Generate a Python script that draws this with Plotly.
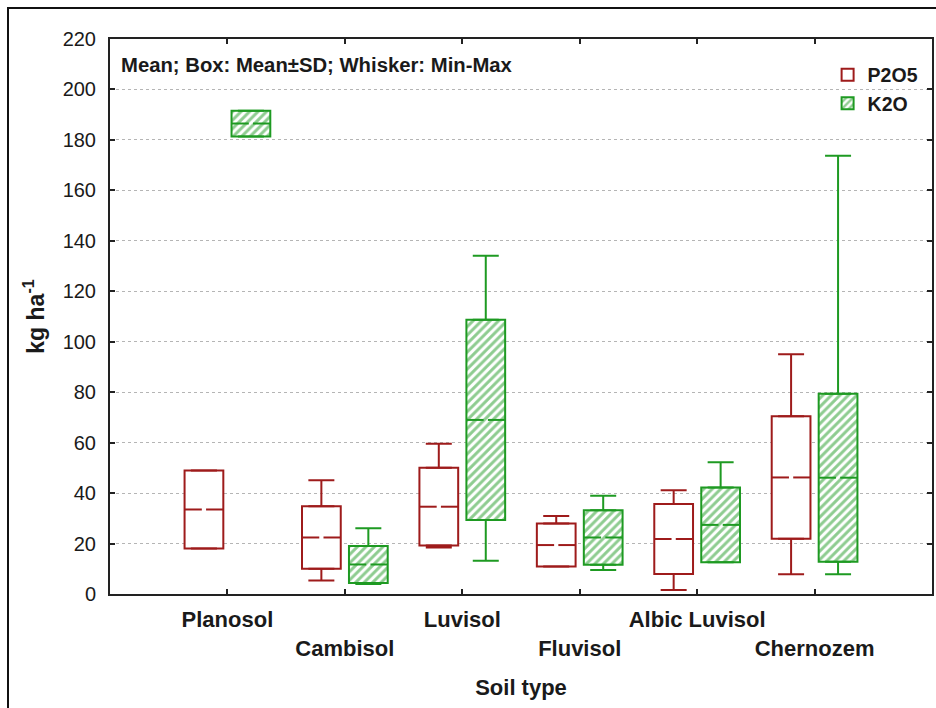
import plotly.graph_objects as go

categories = ["Planosol", "Cambisol", "Luvisol", "Fluvisol", "Albic Luvisol", "Chernozem"]
tick_labels = ["Planosol", " <br>Cambisol", "Luvisol", " <br>Fluvisol", "Albic Luvisol", " <br>Chernozem"]

p2o5_mean = [33.5, 22.4, 34.6, 19.4, 21.8, 46.2]
p2o5_sd = [15.5, 12.4, 15.4, 8.5, 13.9, 24.3]
p2o5_min = [18.0, 5.4, 18.4, 10.9, 1.6, 7.8]
p2o5_max = [49.0, 45.1, 59.6, 30.9, 41.1, 95.0]

k2o_mean = [186.5, 11.7, 69.0, 22.4, 27.4, 46.1]
k2o_sd = [5.1, 7.3, 39.7, 10.8, 14.8, 33.3]
k2o_min = [181.4, 4.0, 13.2, 9.5, 12.6, 7.8]
k2o_max = [191.6, 26.1, 134.1, 38.9, 52.2, 173.7]

RED = "#9E1B1B"
GREEN = "#1E9A22"
TXT = "#1a1a1a"
FONT = "Liberation Sans, Arial, sans-serif"

OFFSET = 0.2
WIDTH = 0.33
GAP = 0.018

fig = go.Figure()

series = [
    ("P2O5", p2o5_mean, p2o5_sd, p2o5_min, p2o5_max, RED, -OFFSET, False),
    ("K2O", k2o_mean, k2o_sd, k2o_min, k2o_max, GREEN, OFFSET, True),
]

for name, mean, sd, mn, mx, col, dx, hatch in series:
    xs = [i + 1 + dx for i in range(len(categories))]
    lows = [m - s for m, s in zip(mean, sd)]
    marker = dict(color="white", line=dict(color=col, width=2))
    if hatch:
        marker["pattern"] = dict(shape="/", fgcolor=col, bgcolor="white", size=6, solidity=0.5)
    fig.add_trace(go.Bar(
        x=xs, y=[2 * s for s in sd], base=lows, width=WIDTH, name=name,
        marker=marker, showlegend=True, hoverinfo="skip",
    ))

for name, mean, sd, mn, mx, col, dx, hatch in series:
    xs = [i + 1 + dx for i in range(len(categories))]
    tops = [m + s for m, s in zip(mean, sd)]
    lows = [m - s for m, s in zip(mean, sd)]
    # whiskers: from box edges to min / max
    fig.add_trace(go.Scatter(
        x=xs + xs, y=tops + lows, mode="markers",
        marker=dict(size=1, color="rgba(0,0,0,0)"),
        error_y=dict(type="data", symmetric=False,
                     array=[b - t for b, t in zip(mx, tops)] + [0] * len(lows),
                     arrayminus=[0] * len(tops) + [l - a for l, a in zip(lows, mn)],
                     color=col, thickness=2, width=13),
        showlegend=False, hoverinfo="skip",
    ))
    # mean lines with small central gap
    lx, ly = [], []
    for x, m in zip(xs, mean):
        lx += [x - WIDTH / 2, x - GAP, None, x + GAP, x + WIDTH / 2, None]
        ly += [m, m, None, m, m, None]
    fig.add_trace(go.Scatter(
        x=lx, y=ly, mode="lines", line=dict(color=col, width=2),
        showlegend=False, hoverinfo="skip",
    ))

fig.update_layout(
    width=936, height=708, autosize=False,
    margin=dict(l=110, r=4, t=39, b=114),
    paper_bgcolor="white", plot_bgcolor="white",
    font=dict(family=FONT, color=TXT),
    barmode="overlay",
    showlegend=True,
    legend=dict(x=0.873, y=0.97, xanchor="left", yanchor="top",
                font=dict(size=19.5, family=FONT, color=TXT, weight="bold"),
                bgcolor="rgba(0,0,0,0)", traceorder="normal", itemclick=False,
                tracegroupgap=0),
    annotations=[dict(
        text="<b>Mean; Box: Mean±SD; Whisker: Min-Max</b>",
        xref="paper", yref="paper", x=0.011, y=0.953, xanchor="left", yanchor="middle",
        showarrow=False, font=dict(size=20.3, family=FONT, color=TXT),
    )],
    shapes=[dict(type="rect", xref="paper", yref="paper",
                 x0=(8 - 110) / 822, x1=(960 - 110) / 822,
                 y0=(594 - 740) / 555, y1=(594 - 8) / 555,
                 line=dict(color="#111111", width=2), layer="below")],
)

fig.update_xaxes(
    range=[0, 7], tickmode="array", tickvals=list(range(1, 7)), ticktext=tick_labels,
    tickangle=0, automargin=False,
    ticks="inside", ticklen=5, tickwidth=2, tickcolor="#222",
    showline=True, linecolor="#222", linewidth=2, mirror="ticks",
    showgrid=False, zeroline=False, ticklabelstandoff=5,
    tickfont=dict(size=22, family=FONT, color=TXT, weight="bold"),
    title=dict(text="<b>Soil type</b>", font=dict(size=22, family=FONT, color=TXT), standoff=20),
)
fig.update_yaxes(
    range=[0, 220], tickmode="linear", tick0=0, dtick=20, automargin=False,
    ticks="inside", ticklen=5, tickwidth=2, tickcolor="#222",
    showline=True, linecolor="#222", linewidth=2, mirror="ticks",
    showgrid=True, gridcolor="#b5b5b5", griddash="dot", gridwidth=1,
    zeroline=False, ticklabelstandoff=8,
    tickfont=dict(size=20, family=FONT, color=TXT),
    title=dict(text="<b>kg ha<sup>-1</sup></b>", font=dict(size=23, family=FONT, color=TXT), standoff=12),
)

fig.write_html("out.html")
